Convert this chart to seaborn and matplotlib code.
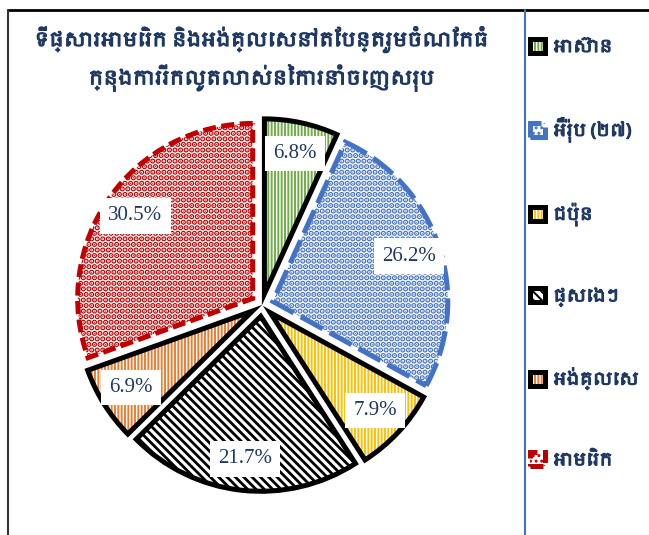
import matplotlib
matplotlib.use("Agg")
import matplotlib.pyplot as plt
from matplotlib import font_manager
from matplotlib.lines import Line2D
import matplotlib.patheffects as pe
import seaborn as sns

# ---- data ----
categories = ["អាស៊ាន", "អឺរ៉ុប (២៧)", "ជប៉ុន", "ផ្សេងៗ", "អង់គ្លេស", "អាមេរិក"]
shares = [6.8, 26.2, 7.9, 21.7, 6.9, 30.5]
title_lines = ["ទីផ្សារអាមេរិក និងអង់គ្លេសនៅតែបន្តរួមចំណែកធំ",
               "ក្នុងការរីកលូតលាស់នៃការនាំចេញសរុប"]

# ---- styles ----
pattern_colors = ["#70AD47", "#4472C4", "#FFC000", "#000000", "#ED7D31", "#C00000"]
hatches = ["|||||", "...", "|||||", "\\\\\\\\", "|||||", "..."]
hatch_widths = [1.4, 2.8, 1.4, 2.0, 1.4, 2.8]
edge_colors = ["#000000", "#4472C4", "#000000", "#000000", "#000000", "#C00000"]
edge_styles = ["solid", (0, (5, 1.6)), "solid", "solid", "solid", (0, (2.6, 1.1))]
navy = "#1F3864"

sns.set_style("white")

khmer = None
for f in font_manager.fontManager.ttflist:
    if "khmer" in f.name.lower():
        khmer = f.name
        break
khmer_family = [khmer, "DejaVu Sans"] if khmer else ["DejaVu Sans"]
plt.rcParams["font.family"] = khmer_family
plt.rcParams["hatch.linewidth"] = 1.4

bold = [pe.withStroke(linewidth=0.9, foreground=navy)]

W, H = 649, 535
fig = plt.figure(figsize=(W / 100, H / 100), dpi=100)
fig.patch.set_facecolor("white")

cx, cy = 262, 305
half = 200
ax = fig.add_axes([(cx - half) / W, (H - cy - half) / H, 2 * half / W, 2 * half / H])

explode = [0.065] * len(shares)

fill_wedges, _, autotexts = ax.pie(
    shares, startangle=90, counterclock=False, explode=explode,
    colors=["white"] * len(shares), hatch=hatches,
    autopct="%.1f%%", pctdistance=0.82,
    wedgeprops=dict(linewidth=0),
    textprops=dict(family="Liberation Serif", fontsize=15, color=navy),
)
for w, c, hw in zip(fill_wedges, pattern_colors, hatch_widths):
    w.set_edgecolor(c)
    if hasattr(w, "set_hatch_linewidth"):
        w.set_hatch_linewidth(hw)
    elif hasattr(w, "_hatch_linewidth"):
        w._hatch_linewidth = hw
for t in autotexts:
    t.set_bbox(dict(facecolor="white", edgecolor="none", pad=6))
    t.set_zorder(5)

edge_wedges, _ = ax.pie(
    shares, startangle=90, counterclock=False, explode=explode,
    wedgeprops=dict(fill=False, linewidth=3.6, joinstyle="miter"),
)
for w, c, ls in zip(edge_wedges, edge_colors, edge_styles):
    w.set_edgecolor(c)
    w.set_linestyle(ls)

lim = half / 175
ax.set_xlim(-lim, lim)
ax.set_ylim(-lim, lim)
ax.set_aspect("equal")
ax.axis("off")

# title
for line, ypx in zip(title_lines, [40, 78]):
    fig.text(262 / W, 1 - ypx / H, line, ha="center", va="center",
             fontsize=14, fontweight="bold", color=navy, family=khmer_family,
             path_effects=bold)

# legend
handles = list(zip(fill_wedges, edge_wedges))
leg = fig.legend(handles, categories, loc="upper left",
                 bbox_to_anchor=(530 / W, 1 - 38 / H),
                 frameon=False, fontsize=12.5, labelspacing=3.55,
                 handlelength=0.85, handleheight=0.85, handletextpad=0.5,
                 borderaxespad=0, borderpad=0)
for t in leg.get_texts():
    t.set_color(navy)
    t.set_fontweight("bold")
    t.set_family(khmer_family)
    t.set_path_effects(bold)

# frame lines
fig.add_artist(Line2D([8 / W, 1], [1 - 10 / H] * 2, transform=fig.transFigure,
                      color="black", lw=2))
fig.add_artist(Line2D([8 / W] * 2, [0, 1 - 10 / H], transform=fig.transFigure,
                      color="#333333", lw=1.5))
fig.add_artist(Line2D([525 / W] * 2, [0, 1 - 10 / H], transform=fig.transFigure,
                      color="#4472C4", lw=1.5))

fig.savefig("out.png", dpi=100, facecolor="white")
